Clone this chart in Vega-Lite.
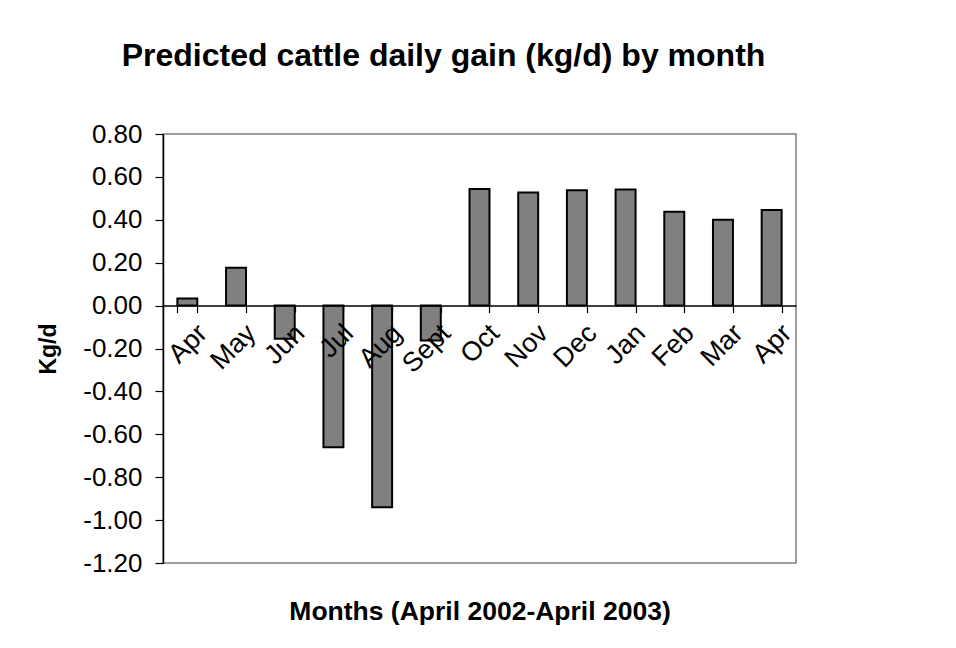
{
  "$schema": "https://vega.github.io/schema/vega-lite/v6.json",
  "autosize": "none",
  "width": 633,
  "height": 429,
  "padding": {"left": 163, "top": 134, "right": 160, "bottom": 85},
  "background": "white",
  "config": {
    "font": "Liberation Sans",
    "view": {"stroke": "#808080", "strokeWidth": 1.5}
  },
  "title": {
    "text": "Predicted cattle daily gain (kg/d) by month",
    "fontSize": 32,
    "fontWeight": "bold",
    "color": "black",
    "anchor": "middle",
    "dx": -36,
    "offset": 48
  },
  "data": {
    "values": [
      {"month": "Apr 2002", "gain": 0.033},
      {"month": "May 2002", "gain": 0.177},
      {"month": "Jun 2002", "gain": -0.155},
      {"month": "Jul 2002", "gain": -0.66},
      {"month": "Aug 2002", "gain": -0.94},
      {"month": "Sept 2002", "gain": -0.163},
      {"month": "Oct 2002", "gain": 0.544},
      {"month": "Nov 2002", "gain": 0.527},
      {"month": "Dec 2002", "gain": 0.538},
      {"month": "Jan 2003", "gain": 0.541},
      {"month": "Feb 2003", "gain": 0.437},
      {"month": "Mar 2003", "gain": 0.40},
      {"month": "Apr 2003", "gain": 0.446}
    ]
  },
  "layer": [
    {
      "mark": {"type": "bar", "fill": "#808080", "stroke": "black", "strokeWidth": 2},
      "encoding": {
        "x": {
          "field": "month",
          "type": "nominal",
          "sort": null,
          "scale": {"paddingInner": 0.59, "paddingOuter": 0.295},
          "axis": {
            "title": null,
            "orient": "bottom",
            "offset": -257.4,
            "zindex": 2,
            "domainColor": "black",
            "domainWidth": 1.5,
            "tickColor": "black",
            "tickWidth": 1.2,
            "tickSize": 7,
            "tickBand": "extent",
            "labelAngle": -45,
            "labelAlign": "right",
            "labelBaseline": "top",
            "labelPadding": 7,
            "labelOffset": 6,
            "labelFontSize": 27,
            "labelColor": "black",
            "labelExpr": "split(datum.label, ' ')[0]"
          }
        },
        "y": {
          "field": "gain",
          "type": "quantitative",
          "scale": {"domain": [-1.2, 0.8], "nice": false, "zero": false},
          "axis": {
            "title": "Kg/d",
            "titleFontSize": 23,
            "titleFontWeight": "bold",
            "titleColor": "black",
            "titlePadding": 22,
            "values": [-1.2, -1.0, -0.8, -0.6, -0.4, -0.2, 0, 0.2, 0.4, 0.6, 0.8],
            "labelExpr": "(datum.value < -0.0001 ? '-' : '') + format(abs(datum.value), '.2f')",
            "labelFontSize": 26,
            "labelColor": "black",
            "labelPadding": 13,
            "tickSize": 8,
            "tickColor": "black",
            "tickWidth": 1.2,
            "domainColor": "black",
            "domainWidth": 1.5,
            "grid": false
          }
        }
      }
    },
    {
      "mark": {"type": "bar", "opacity": 0},
      "encoding": {
        "x": {
          "field": "month",
          "type": "nominal",
          "sort": null,
          "axis": {
            "orient": "bottom",
            "title": "Months (April 2002-April 2003)",
            "titleFontSize": 26.5,
            "titleFontWeight": "bold",
            "titleColor": "black",
            "titlePadding": 35,
            "labels": false,
            "ticks": false,
            "domain": false
          }
        },
        "y": {"field": "gain", "type": "quantitative"}
      }
    }
  ],
  "resolve": {"axis": {"x": "independent"}}
}
